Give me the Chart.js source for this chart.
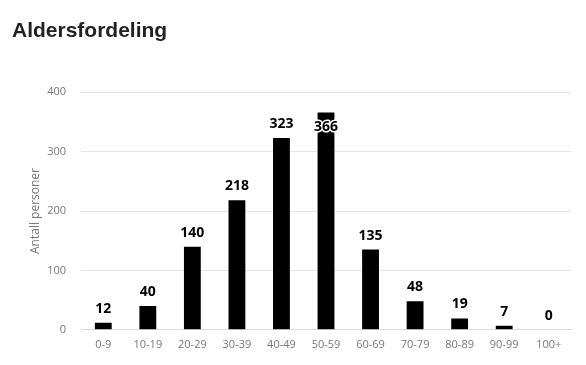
<!DOCTYPE html>
<html><head><meta charset="utf-8">
<script src="https://cdn.jsdelivr.net/npm/chart.js@4/dist/chart.umd.min.js"></script>
<style>html,body{margin:0;padding:0;background:#fff;}#wrap{width:586px;height:365px;}</style>
</head><body><div id="wrap"><canvas id="c" width="586" height="365"></canvas></div>
<script>
const categories = ["0-9","10-19","20-29","30-39","40-49","50-59","60-69","70-79","80-89","90-99","100+"];
const counts = [12,40,140,218,323,366,135,48,19,7,0];
const yTicks = [0,100,200,300,400];

const labelPlugin = {
  id: 'barLabels',
  afterDatasetsDraw(chart) {
    const ctx = chart.ctx;
    const meta = chart.getDatasetMeta(0);
    const area = chart.chartArea;
    ctx.save();
    ctx.font = 'bold 14px "Open Sans", "Noto Sans", sans-serif';
    ctx.textAlign = 'center';
    ctx.textBaseline = 'middle';
    meta.data.forEach((bar, i) => {
      const v = counts[i];
      let y = bar.y - 14;
      if (y - 8 < area.top + 10) y = bar.y + 15;
      ctx.lineWidth = 3;
      ctx.strokeStyle = '#fff';
      ctx.lineJoin = 'round';
      ctx.strokeText(String(v), bar.x, y);
      ctx.fillStyle = '#000';
      ctx.fillText(String(v), bar.x, y);
    });
    ctx.restore();
  }
};

new Chart(document.getElementById('c'), {
  type: 'bar',
  data: {
    labels: categories,
    datasets: [{ data: counts, backgroundColor: '#000', barPercentage: 0.9, categoryPercentage: 0.42 }]
  },
  options: {
    responsive: false,
    animation: false,
    devicePixelRatio: 1,
    layout: { padding: { left: 12, right: 15, top: 0, bottom: 6 } },
    plugins: {
      legend: { display: false },
      tooltip: { enabled: false },
      title: {
        display: true, text: 'Aldersfordeling', align: 'start',
        color: '#222', font: { family: '"Liberation Sans", Arial, sans-serif', size: 21, weight: 'bold' },
        padding: { top: 19, bottom: 48 }
      }
    },
    scales: {
      x: {
        grid: { display: false, drawTicks: false },
        border: { display: true, color: '#d9d9d9' },
        ticks: { color: '#777', font: { family: '"Open Sans", sans-serif', size: 11 }, padding: 8, maxRotation: 0 }
      },
      y: {
        min: 0, max: 400,
        afterBuildTicks(axis) { axis.ticks = yTicks.map(v => ({ value: v })); },
        afterFit(axis) { axis.width = 69; },
        grid: { color: '#e6e6e6', drawTicks: false },
        border: { display: false },
        ticks: { color: '#777', font: { family: '"Open Sans", sans-serif', size: 11 }, padding: 15 },
        title: { display: true, text: 'Antall personer', color: '#777', font: { family: '"Open Sans", sans-serif', size: 12 }, padding: { top: 16, bottom: 0 } }
      }
    }
  },
  plugins: [labelPlugin]
});
</script></body></html>
